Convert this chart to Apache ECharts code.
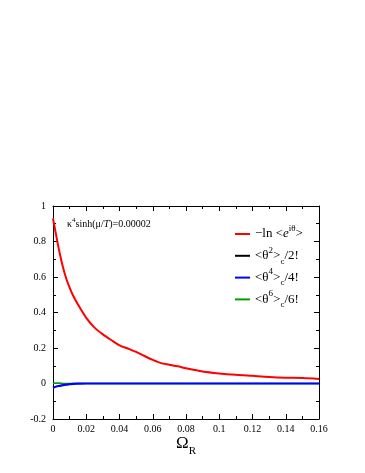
<!DOCTYPE html>
<html lang="en">
  <head>
    <meta charset="UTF-8" />
    <title>Omega_R</title>
    <script src="https://cdn.jsdelivr.net/npm/echarts@6.0.0/dist/echarts.min.js"></script>
    <style>
      html, body { margin: 0; padding: 0; background: #fff; }
    </style>
  </head>
  <body>
    <div id="main" style="width: 365px; height: 473px"></div>
    <script type="text/javascript">
      // values
      let omegaR = [0, 0.002, 0.004, 0.006, 0.008, 0.01, 0.012, 0.015, 0.02, 0.025, 0.03, 0.035,
        0.04, 0.045, 0.05, 0.055, 0.06, 0.065, 0.07, 0.075, 0.08, 0.09, 0.1, 0.11, 0.12, 0.13,
        0.14, 0.15, 0.16]
      let lnPhase = [0.93, 0.83, 0.735, 0.655, 0.59, 0.54, 0.497, 0.445, 0.37, 0.315, 0.277, 0.245,
        0.215, 0.197, 0.178, 0.155, 0.133, 0.115, 0.106, 0.097, 0.086, 0.068, 0.057, 0.049, 0.043, 0.037,
        0.033, 0.031, 0.026]
      let cum2 = [0.002, 0.001, 0.001, 0, 0, 0, 0, 0, 0, 0, 0, 0,
        0, 0, 0, 0, 0, 0, 0, 0, 0, 0, 0, 0, 0, 0,
        0, 0, 0]
      let cum4 = [-0.024, -0.017, -0.013, -0.009, -0.006, -0.004, -0.002, -0.001, 0, 0, 0, 0,
        0, 0, 0, 0, 0, 0, 0, 0, 0, 0, 0, 0, 0, 0,
        0, 0, 0]
      let cum6 = [0.001, 0.001, 0.001, 0, 0, 0, 0, 0, 0, 0, 0, 0,
        0, 0, 0, 0, 0, 0, 0, 0, 0, 0, 0, 0, 0, 0,
        0, 0, 0]
      let xTicks = [0, 0.02, 0.04, 0.06, 0.08, 0.1, 0.12, 0.14, 0.16]
      let yTicks = [-0.2, 0, 0.2, 0.4, 0.6, 0.8, 1]

      let names = ["lnphase", "c2", "c4", "c6"]
      let legendText = {
        lnphase: "\u2212ln <{it|e}{sup|i\u03b8}>",
        c2: "<\u03b8{sup|2}>{sub|c}/2!",
        c4: "<\u03b8{sup|4}>{sub|c}/4!",
        c6: "<\u03b8{sup|6}>{sub|c}/6!",
      }

      function pairs(ys) {
        return omegaR.map((x, i) => [x, ys[i]])
      }

      let serif = "Liberation Serif"
      let labelRich = {
        sup: { fontFamily: serif, fontSize: 9, verticalAlign: "top", lineHeight: 20, color: "#000" },
        sub: { fontFamily: serif, fontSize: 9, verticalAlign: "bottom", lineHeight: 20, color: "#000" },
        it: { fontFamily: serif, fontSize: 13, fontStyle: "italic", lineHeight: 20, color: "#000" },
      }

      let mirrorAxis = {
        axisLine: { show: true, onZero: false, lineStyle: { color: "#000", width: 1 } },
        axisTick: { show: true, inside: true, length: 5, lineStyle: { color: "#000" } },
        minorTick: { show: true, splitNumber: 2, length: 3, lineStyle: { color: "#000" } },
        axisLabel: { show: false },
        splitLine: { show: false },
      }

      let options = {
        animation: false,
        backgroundColor: "#fff",
        grid: { left: 53, right: 46, top: 206, bottom: 54 },
        title: {
          text: "\u03ba{sup|4}sinh(\u03bc/{it|T})=0.00002",
          left: 62,
          top: 212,
          textStyle: {
            fontFamily: serif, fontSize: 10, fontWeight: "normal", color: "#000",
            rich: {
              sup: { fontFamily: serif, fontSize: 7, verticalAlign: "top", lineHeight: 14, color: "#000" },
              it: { fontFamily: serif, fontSize: 10, fontStyle: "italic", lineHeight: 14, color: "#000" },
            },
          },
        },
        legend: {
          orient: "vertical",
          left: 230,
          top: 219,
          icon: "rect",
          itemWidth: 15,
          itemHeight: 2,
          itemGap: 1.8,
          data: names,
          formatter: (n) => legendText[n],
          textStyle: { fontFamily: serif, fontSize: 13, color: "#000", lineHeight: 20, rich: labelRich },
        },
        xAxis: [
          {
            type: "value",
            min: 0,
            max: 0.16,
            interval: 0.02,
            name: "\u03a9{sub|R}",
            nameLocation: "middle",
            nameGap: 10,
            nameTextStyle: {
              fontFamily: serif, fontSize: 17, color: "#000",
              rich: { sub: { fontFamily: serif, fontSize: 11, verticalAlign: "bottom", lineHeight: 26, color: "#000" } },
            },
            axisLine: { show: true, onZero: false, lineStyle: { color: "#000", width: 1 } },
            axisTick: { show: true, inside: true, length: 5, lineStyle: { color: "#000" } },
            minorTick: { show: true, splitNumber: 2, length: 3, lineStyle: { color: "#000" } },
            axisLabel: {
              fontFamily: serif, fontSize: 10, color: "#000", margin: 5,
              customValues: xTicks,
              formatter: (v) => String(+v.toFixed(2)),
            },
            splitLine: { show: false },
          },
          Object.assign({ type: "value", position: "top", min: 0, max: 0.16, interval: 0.02 }, mirrorAxis),
        ],
        yAxis: [
          {
            type: "value",
            min: -0.2,
            max: 1,
            interval: 0.2,
            axisLine: { show: true, onZero: false, lineStyle: { color: "#000", width: 1 } },
            axisTick: { show: true, inside: true, length: 5, lineStyle: { color: "#000" } },
            minorTick: { show: true, splitNumber: 2, length: 3, lineStyle: { color: "#000" } },
            axisLabel: {
              fontFamily: serif, fontSize: 10, color: "#000", margin: 7,
              customValues: yTicks,
              formatter: (v) => String(+v.toFixed(1)),
            },
            splitLine: { show: false },
          },
          Object.assign({ type: "value", position: "right", min: -0.2, max: 1, interval: 0.2 }, mirrorAxis),
        ],
        series: [
          { name: "lnphase", type: "line", data: pairs(lnPhase), smooth: 0.3, showSymbol: false, color: "#ff0000", lineStyle: { width: 2 }, z: 5 },
          { name: "c2", type: "line", data: pairs(cum2), smooth: 0.3, showSymbol: false, color: "#000000", lineStyle: { width: 1.2 }, z: 2 },
          { name: "c4", type: "line", data: pairs(cum4), smooth: 0.3, showSymbol: false, color: "#0000ff", lineStyle: { width: 2.2 }, z: 4 },
          { name: "c6", type: "line", data: pairs(cum6), smooth: 0.3, showSymbol: false, color: "#00a000", lineStyle: { width: 1.5 }, z: 3 },
        ],
      }

      let myChart = echarts.init(document.getElementById("main"))
      myChart.setOption(options)
    </script>
  </body>
</html>
